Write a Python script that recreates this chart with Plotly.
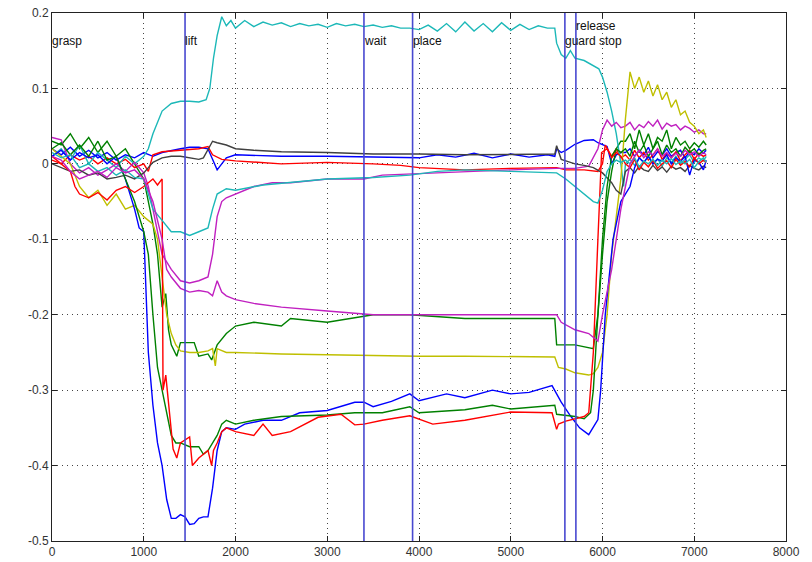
import plotly.graph_objects as go

# ---------------- data ----------------
X_TICKS = [0, 1000, 2000, 3000, 4000, 5000, 6000, 7000, 8000]
Y_TICKS = [-0.5, -0.4, -0.3, -0.2, -0.1, 0.0, 0.1, 0.2]
Y_TICK_TEXT = ["-0.5", "-0.4", "-0.3", "-0.2", "-0.1", "0", "0.1", "0.2"]

EVENT_X = [1450, 3400, 3930, 5590, 5710]
LABELS = ["grasp", "lift", "wait", "place", "guard stop", "release"]
LABEL_X = [0, 1450, 3400, 3930, 5590, 5710]
LABEL_Y = [0.163, 0.163, 0.163, 0.163, 0.163, 0.183]

END_X = [6250, 6300, 6350, 6400, 6450, 6500, 6550, 6600, 6650, 6700,
         6750, 6800, 6850, 6900, 6950, 7000, 7050, 7100, 7130]

blue_a_x = [0,100,200,300,400,500,600,700,800,900,1000,1100,1200,1300,1400,1500,1600,1700,1750,1800,1850,1900,2000,2500,3000,3500,4000,4200,4400,4600,4800,5000,5200,5400,5480,5500,5550,5600,5700,5800,5900,5950,6000,6050,6100,6150,6200]
blue_a_y = [0.02,0.012,0.022,0.01,0.018,0.008,0.015,0.005,0.012,0.008,0.015,0.01,0.015,0.018,0.02,0.022,0.022,0.02,0.005,-0.008,0.0,0.008,0.012,0.01,0.01,0.009,0.008,0.012,0.009,0.014,0.008,0.013,0.009,0.012,0.01,0.02,0.015,0.018,0.026,0.031,0.032,0.028,0.025,0.023,0.0,0.012,0.015]
blue_a_end = [0.015,0.02,0.01,0.018,0.012,0.022,0.008,0.016,0.012,0.02,0.01,0.015,0.018,0.008,0.016,0.012,0.02,0.014,0.018]

green_a_x = [0,100,200,300,400,500,600,700,800,900,1000,1050,1100,1150,1200,1240,1270,1300,1360,1400,1550,1600,1700,1740,1780,1800,1900,2000,2200,2500,2600,3000,3500,3900,4500,5000,5480,5500,5700,5900,5950,6000,6050,6100,6150,6200]
green_a_y = [0.03,0.025,0.04,0.02,0.035,0.015,0.03,0.01,0.02,0.0,-0.02,-0.05,-0.08,-0.12,-0.19,-0.172,-0.22,-0.24,-0.255,-0.237,-0.237,-0.255,-0.252,-0.26,-0.245,-0.24,-0.225,-0.215,-0.21,-0.215,-0.205,-0.21,-0.2,-0.2,-0.205,-0.205,-0.205,-0.24,-0.24,-0.245,-0.2,-0.12,-0.05,-0.01,0.02,0.03]
green_a_end = [0.03,0.04,0.02,0.045,0.025,0.04,0.02,0.035,0.03,0.045,0.02,0.035,0.025,0.03,0.02,0.028,0.022,0.03,0.025]

red_a_x = [0,100,200,300,400,500,600,700,800,900,1000,1050,1100,1200,1400,1600,1700,1750,1850,2000,2500,3000,3500,3800,4000,4500,5000,5500,5600,5800,5950,6000,6030,6100,6150,6200]
red_a_y = [0.01,0.0,0.012,0.005,0.01,0.0,0.008,0.0,0.006,-0.005,0.0,-0.01,0.012,0.016,0.018,0.02,0.023,0.012,0.006,0.004,0.0,0.002,0.0,-0.002,-0.005,-0.008,-0.006,-0.005,-0.008,-0.008,-0.01,0.0,0.025,0.01,0.02,0.008]
red_a_end = [0.012,0.005,0.018,0.008,0.015,0.005,0.012,0.02,0.006,0.014,0.008,0.016,0.004,0.012,0.018,0.006,0.014,0.01,0.012]

cyan_a_x = [0,100,200,300,400,500,600,700,800,900,1000,1050,1100,1150,1200,1300,1400,1500,1600,1680,1720,1760,1800,1850,1900,1950,2000,2100,2200,2300,2400,2500,2600,2700,2800,2900,3000,3100,3200,3300,3400,3500,3600,3700,3800,3900,4000,4100,4200,4300,4400,4500,4600,4700,4800,4900,5000,5100,5200,5300,5400,5480,5500,5550,5600,5650,5700,5800,5900,5960,6000,6050,6100,6150,6200,6230]
cyan_a_y = [0.01,0.02,0.005,0.025,0.0,0.015,0.005,-0.005,0.01,0.0,0.01,0.02,0.04,0.055,0.07,0.08,0.083,0.083,0.082,0.085,0.1,0.14,0.17,0.195,0.183,0.19,0.18,0.19,0.182,0.188,0.184,0.187,0.182,0.186,0.183,0.185,0.181,0.186,0.183,0.185,0.182,0.184,0.181,0.183,0.18,0.18,0.178,0.184,0.176,0.186,0.175,0.188,0.176,0.186,0.175,0.187,0.177,0.185,0.178,0.183,0.18,0.18,0.16,0.145,0.14,0.15,0.14,0.137,0.13,0.126,0.115,0.095,0.07,0.04,0.0,-0.03]
cyan_a_end = [0.0,0.006,-0.002,0.008,0.002,0.01,0.0,0.007,-0.003,0.008,0.002,0.01,0.0,0.006,0.012,0.002,0.008,0.004,0.01]

magenta_a_x = [0,100,200,300,400,500,600,700,800,900,1000,1050,1100,1200,1300,1400,1500,1600,1700,1750,1800,1850,1900,2000,2200,2400,2600,3000,3400,3600,4000,4500,5000,5500,5700,5850,5950,6000,6050,6100,6150,6200]
magenta_a_y = [0.035,0.032,0.0,-0.012,-0.005,-0.015,-0.008,0.0,-0.01,0.002,-0.012,-0.03,-0.06,-0.12,-0.14,-0.155,-0.158,-0.155,-0.15,-0.12,-0.07,-0.05,-0.045,-0.04,-0.03,-0.025,-0.025,-0.02,-0.02,-0.015,-0.013,-0.01,-0.008,-0.006,-0.006,-0.003,0.02,0.045,0.058,0.05,0.055,0.048]
magenta_a_end = [0.05,0.055,0.045,0.052,0.048,0.056,0.05,0.058,0.046,0.054,0.05,0.052,0.045,0.05,0.047,0.042,0.045,0.04,0.04]

yellow_x = [0,100,200,300,400,500,600,700,800,900,1000,1100,1150,1200,1250,1300,1350,1400,1500,1600,1700,1750,1780,1800,1900,2000,2500,3000,3500,4000,4500,5000,5480,5520,5600,5700,5850,5900,5950,6000,6050,6100,6150,6200]
yellow_y = [0.02,0.01,0.0,-0.03,-0.045,-0.035,-0.055,-0.04,-0.06,-0.055,-0.07,-0.08,-0.1,-0.15,-0.2,-0.225,-0.24,-0.248,-0.25,-0.25,-0.248,-0.245,-0.268,-0.245,-0.25,-0.25,-0.252,-0.253,-0.254,-0.255,-0.255,-0.256,-0.256,-0.27,-0.272,-0.277,-0.28,-0.278,-0.27,-0.25,-0.2,-0.12,-0.07,-0.02]
yellow_end = [0.06,0.122,0.1,0.115,0.095,0.11,0.09,0.105,0.085,0.095,0.075,0.085,0.065,0.07,0.055,0.05,0.04,0.045,0.035]

gray_x = [0,100,200,300,400,500,600,700,800,900,1000,1050,1100,1200,1300,1400,1500,1600,1650,1700,1750,1800,1900,2000,2200,2500,3000,3500,4000,4500,5000,5480,5500,5550,5600,5700,5800,5900,6000,6100,6150,6200]
gray_y = [0.0,-0.005,-0.01,-0.008,-0.015,-0.012,-0.02,-0.018,-0.015,-0.02,-0.012,-0.005,0.002,0.008,0.01,0.01,0.008,0.006,0.008,0.02,0.03,0.028,0.025,0.02,0.018,0.016,0.015,0.013,0.013,0.012,0.013,0.013,0.024,0.006,0.004,0.0,-0.002,-0.005,-0.012,-0.025,-0.035,-0.04]
gray_end = [-0.01,-0.005,-0.012,-0.003,-0.008,-0.01,-0.002,-0.009,-0.004,-0.011,-0.003,-0.007,-0.005,-0.01,-0.002,-0.006,-0.008,-0.003,-0.005]

blue_b_x = [0,100,200,300,400,500,600,700,800,900,950,1000,1050,1100,1150,1200,1250,1300,1350,1400,1450,1500,1550,1600,1650,1700,1750,1800,1850,1900,2000,2100,2300,2500,2700,3000,3300,3400,3500,3700,3900,4000,4300,4500,4800,5000,5200,5450,5550,5650,5750,5850,5950,5980,6030,6115,6200]
blue_b_y = [0.01,0.018,0.005,0.015,0.008,0.012,0.0,0.01,-0.02,-0.06,-0.085,-0.09,-0.25,-0.32,-0.37,-0.4,-0.445,-0.47,-0.47,-0.465,-0.468,-0.478,-0.477,-0.47,-0.468,-0.468,-0.43,-0.38,-0.355,-0.35,-0.352,-0.345,-0.34,-0.34,-0.33,-0.327,-0.316,-0.316,-0.322,-0.315,-0.305,-0.314,-0.305,-0.31,-0.3,-0.305,-0.303,-0.294,-0.316,-0.334,-0.35,-0.359,-0.339,-0.3,-0.2,-0.1,-0.05]
blue_b_end = [-0.04,-0.03,-0.005,0.008,0.002,0.01,0.0,0.006,0.004,0.012,0.0,0.008,0.003,0.01,-0.015,0.006,0.002,-0.008,0.005]

green_b_x = [0,100,200,300,400,500,600,700,800,900,1000,1050,1100,1150,1200,1250,1300,1350,1400,1500,1600,1650,1700,1800,1850,1900,2000,2200,2500,3000,3300,3600,3900,4000,4500,4800,5000,5480,5500,5700,5800,5870,5900,5950,6000,6050,6100,6150,6200]
green_b_y = [0.02,0.028,0.012,0.025,0.01,0.03,0.005,0.01,-0.02,-0.05,-0.09,-0.12,-0.2,-0.27,-0.3,-0.33,-0.36,-0.37,-0.37,-0.375,-0.375,-0.385,-0.38,-0.36,-0.345,-0.34,-0.345,-0.34,-0.335,-0.333,-0.33,-0.33,-0.322,-0.33,-0.326,-0.32,-0.325,-0.32,-0.332,-0.335,-0.338,-0.33,-0.3,-0.2,-0.1,-0.03,0.01,0.02,0.015]
green_b_end = [0.02,0.01,0.03,0.015,0.025,0.01,0.02,0.03,0.012,0.025,0.015,0.02,0.01,0.022,0.015,0.02,0.012,0.018,0.02]

red_b_x = [0,100,200,250,300,400,500,600,700,800,900,1000,1100,1150,1200,1210,1240,1320,1360,1400,1500,1530,1600,1700,1740,1760,1800,1850,1900,2000,2200,2300,2400,2600,2900,3150,3300,3400,3600,3900,4150,4500,5000,5450,5500,5520,5600,5800,5850,5900,5950,5990,6050,6100,6150,6200]
red_b_y = [0.005,0.0,-0.01,-0.03,-0.04,-0.045,-0.038,-0.048,-0.035,-0.03,-0.038,-0.03,-0.02,-0.028,-0.02,-0.3,-0.28,-0.378,-0.39,-0.37,-0.362,-0.4,-0.39,-0.38,-0.4,-0.38,-0.37,-0.355,-0.35,-0.355,-0.36,-0.345,-0.36,-0.355,-0.336,-0.332,-0.346,-0.345,-0.34,-0.334,-0.345,-0.34,-0.329,-0.33,-0.352,-0.345,-0.341,-0.335,-0.33,-0.25,-0.1,0.015,0.02,0.008,0.015,0.01]
red_b_end = [0.0,-0.005,0.006,-0.008,0.002,-0.004,0.005,-0.006,0.0,0.004,-0.005,0.006,-0.002,0.003,-0.004,0.008,0.0,0.005,0.002]

cyan_b_x = [0,100,200,300,400,500,600,700,800,900,1000,1050,1100,1200,1300,1400,1500,1600,1700,1750,1800,1900,2000,2300,2600,3000,3500,3900,4200,4500,5000,5500,5600,5700,5800,5900,5950,6000,6050,6100,6150,6200]
cyan_b_y = [0.015,0.008,0.012,-0.005,0.0,-0.01,-0.005,-0.015,-0.008,-0.018,-0.02,-0.04,-0.06,-0.075,-0.09,-0.09,-0.095,-0.09,-0.085,-0.06,-0.04,-0.033,-0.035,-0.028,-0.025,-0.02,-0.018,-0.015,-0.01,-0.008,-0.01,-0.012,-0.02,-0.03,-0.04,-0.05,-0.052,-0.035,-0.01,0.0,0.005,0.002]
cyan_b_end = [0.005,0.0,0.008,-0.004,0.004,0.0,0.006,-0.002,0.005,0.0,0.007,-0.001,0.004,0.0,0.006,-0.005,0.003,0.008,0.002]

magenta_b_x = [0,100,200,300,400,500,600,700,800,900,1000,1100,1200,1250,1300,1400,1500,1600,1700,1750,1800,1850,1900,2000,2200,2500,3000,3500,4000,4500,5000,5500,5550,5700,5850,5950,6000,6100,6150,6200]
magenta_b_y = [0.01,0.005,-0.01,-0.02,-0.015,-0.01,-0.018,-0.005,-0.012,-0.008,-0.02,-0.05,-0.1,-0.14,-0.15,-0.165,-0.17,-0.168,-0.17,-0.175,-0.155,-0.17,-0.175,-0.18,-0.185,-0.19,-0.195,-0.2,-0.2,-0.2,-0.2,-0.2,-0.21,-0.22,-0.225,-0.235,-0.2,-0.14,-0.1,-0.06]
magenta_b_end = [-0.03,0.0,0.01,0.018,0.008,0.016,0.012,0.02,0.01,0.015,0.008,0.014,0.01,0.018,0.012,0.016,0.01,0.015,0.012]

SERIES = [
    ("blue", "#0000ff", blue_a_x, blue_a_y, blue_a_end),
    ("green", "#008000", green_a_x, green_a_y, green_a_end),
    ("red", "#ff0000", red_a_x, red_a_y, red_a_end),
    ("cyan", "#1cb8b8", cyan_a_x, cyan_a_y, cyan_a_end),
    ("magenta", "#c020c0", magenta_a_x, magenta_a_y, magenta_a_end),
    ("yellow", "#bfbf00", yellow_x, yellow_y, yellow_end),
    ("gray", "#404040", gray_x, gray_y, gray_end),
    ("blue2", "#0000ff", blue_b_x, blue_b_y, blue_b_end),
    ("green2", "#008000", green_b_x, green_b_y, green_b_end),
    ("red2", "#ff0000", red_b_x, red_b_y, red_b_end),
    ("cyan2", "#1cb8b8", cyan_b_x, cyan_b_y, cyan_b_end),
    ("magenta2", "#c020c0", magenta_b_x, magenta_b_y, magenta_b_end),
]

# ---------------- figure ----------------
fig = go.Figure()
for name, color, xs, ys, ye in SERIES:
    fig.add_trace(go.Scatter(x=xs + END_X, y=ys + ye, mode="lines", name=name,
                             line=dict(color=color, width=1.4), showlegend=False,
                             hoverinfo="skip"))

for ex in EVENT_X:
    fig.add_shape(type="line", x0=ex, x1=ex, y0=0, y1=1, xref="x", yref="paper",
                  line=dict(color="#4848d0", width=1.6), layer="above")

for t, lx, ly in zip(LABELS, LABEL_X, LABEL_Y):
    fig.add_annotation(x=lx, y=ly, text=t, showarrow=False, xanchor="left",
                       yanchor="middle", xshift=-2,
                       font=dict(family="Liberation Sans, Arial", size=12, color="#111"))

axis_common = dict(showline=True, linecolor="#222", linewidth=1, mirror="ticks",
                   ticks="inside", ticklen=5, tickcolor="#222", showgrid=True,
                   gridcolor="#444", gridwidth=1, griddash="1px,4px", zeroline=False,
                   automargin=False,
                   tickfont=dict(family="Liberation Sans, Arial", size=12, color="#333"))

fig.update_xaxes(range=[0, 8000], tickvals=X_TICKS, **axis_common)
fig.update_yaxes(range=[-0.5, 0.2], tickvals=Y_TICKS, ticktext=Y_TICK_TEXT, **axis_common)

fig.update_layout(width=812, height=562, margin=dict(l=52, r=26, t=13, b=21),
                  paper_bgcolor="white", plot_bgcolor="white")

fig.write_html("out.html", config={"displayModeBar": False},
               post_script="document.body.style.margin='0';document.body.style.overflow='hidden';")
